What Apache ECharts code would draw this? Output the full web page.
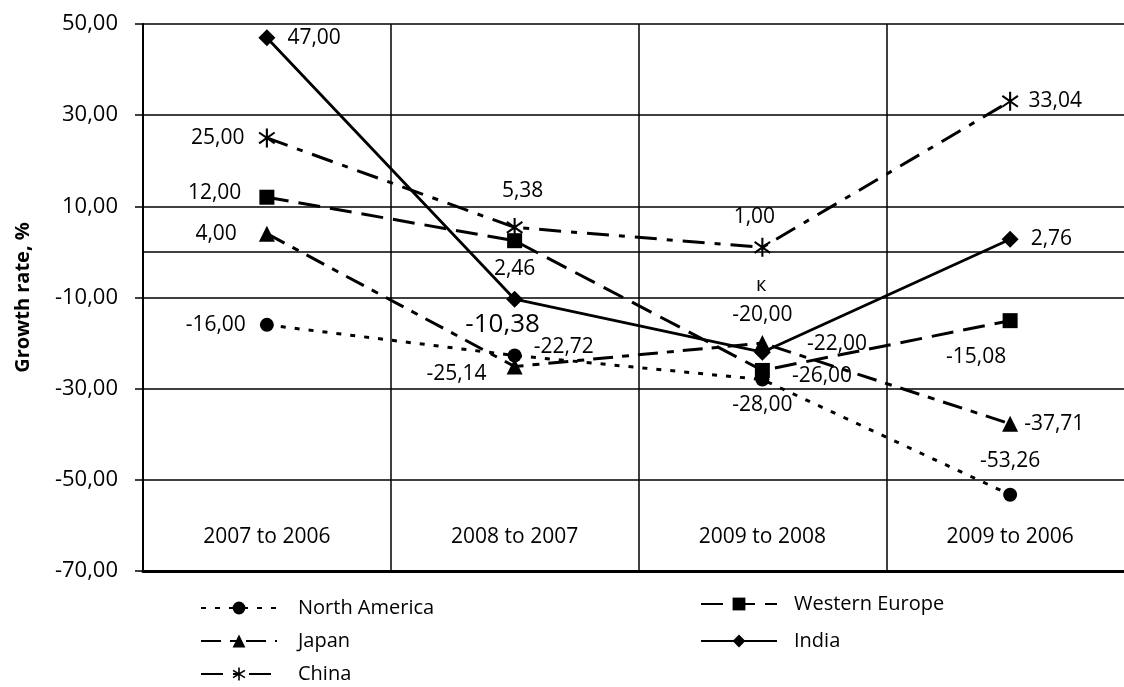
<!DOCTYPE html>
<html>
<head>
<meta charset="utf-8">
<script src="https://cdn.jsdelivr.net/npm/echarts@6/dist/echarts.min.js"></script>
<style>
html,body{margin:0;padding:0;background:#fff;overflow:hidden;}
#chart{width:1140px;height:687px;}
</style>
</head>
<body>
<div id="chart"></div>
<script>
// ---- data ----
const categories = ['2007 to 2006', '2008 to 2007', '2009 to 2008', '2009 to 2006'];
const northAmerica = [-16.00, -22.72, -28.00, -53.26];
const westernEurope = [12.00, 2.46, -26.00, -15.08];
const japan = [4.00, -25.14, -20.00, -37.71];
const india = [47.00, -10.38, -22.00, 2.76];
const china = [25.00, 5.38, 1.00, 33.04];
const yTicks = [-70, -50, -30, -10, 10, 30, 50];
const yAxisTitle = 'Growth rate, %';
const strayText = 'к';

// ---- styles (label placement per point) ----
const labelPlacement = {
  'North America': [{position:'left', distance:14}, {position:'right', distance:12, offset:[0,-8]}, {position:'bottom', distance:8}, {position:'top', distance:16}],
  'Western Europe': [{position:'left', distance:18, offset:[0,-4]}, {position:'bottom', distance:10}, {position:'right', distance:22, offset:[0,6]}, {position:'bottom', distance:14, offset:[-34,4]}],
  'Japan': [{position:'left', distance:22}, {position:'left', distance:20, offset:[0,8]}, {position:'top', distance:10}, {position:'right', distance:6}],
  'India': [{position:'right', distance:12}, {position:'bottom', distance:4, offset:[-12,0], fontSize:26}, {position:'right', distance:36, offset:[0,-8]}, {position:'right', distance:12}],
  'China': [{position:'left', distance:14}, {position:'top', distance:10, offset:[8,-6]}, {position:'top', distance:10, offset:[-8,0]}, {position:'right', distance:10}]
};

function fmt(v){ return v.toFixed(2).replace('.', ','); }

function asteriskPath(){
  const L = 10, w = 1.1;
  const angles = [0, 55, -55];
  let d = '';
  angles.forEach(a => {
    const r = a * Math.PI / 180;
    const dx = Math.sin(r), dy = -Math.cos(r);
    const nx = -dy, ny = dx;
    const p = [
      [dx*L + nx*w, dy*L + ny*w],
      [dx*L - nx*w, dy*L - ny*w],
      [-dx*L - nx*w, -dy*L - ny*w],
      [-dx*L + nx*w, -dy*L + ny*w]
    ];
    d += 'M' + p.map(q => q[0].toFixed(2) + ' ' + q[1].toFixed(2)).join(' L') + ' Z ';
  });
  return 'path://' + d;
}

const FONT = '"Open Sans", sans-serif';

function makeData(name, values){
  return values.map((v, i) => {
    const pl = labelPlacement[name][i];
    const lab = {position: pl.position, distance: pl.distance};
    if (pl.offset) lab.offset = pl.offset;
    if (pl.fontSize) lab.fontSize = pl.fontSize;
    return {value: v, label: lab};
  });
}

const seriesDefs = [
  {name:'North America', values: northAmerica, symbol:'circle', size:14, dash:[5,9], width:3},
  {name:'Japan', values: japan, symbol:'triangle', size:16, dash:[20,9,7,9], width:3},
  {name:'China', values: china, symbol: asteriskPath(), size:19, dash:[22,10,6,10], width:3},
  {name:'Western Europe', values: westernEurope, symbol:'rect', size:15, dash:[22,10], width:3},
  {name:'India', values: india, symbol:'diamond', size:17, dash:'solid', width:2.8}
];

const series = seriesDefs.map(s => ({
  name: s.name,
  type: 'line',
  data: makeData(s.name, s.values),
  symbol: s.symbol,
  symbolSize: s.size,
  symbolKeepAspect: true,
  showAllSymbol: true,
  lineStyle: {color:'#000', width: s.width, type: s.dash},
  itemStyle: {color:'#000'},
  label: {
    show: true,
    color: '#000',
    fontFamily: FONT,
    fontSize: 21,
    formatter: p => fmt(p.value)
  },
  emphasis: {disabled: true},
  animation: false
}));

// zero line
series[0].markLine = {
  silent: true,
  symbol: 'none',
  label: {show:false},
  lineStyle: {color:'#000', width:1.5, type:'solid'},
  data: [{yAxis: 0}],
  animation: false
};

const chart = echarts.init(document.getElementById('chart'), null, {renderer:'canvas'});
chart.setOption({
  backgroundColor: '#fff',
  animation: false,
  grid: {left:143, top:24, width:991, height:547, containLabel:false},
  xAxis: {
    type: 'category',
    data: categories,
    boundaryGap: true,
    axisLine: {show:true, onZero:false, lineStyle:{color:'#000', width:3}},
    axisTick: {show:false},
    splitLine: {show:true, lineStyle:{color:'#000', width:1.5}},
    axisLabel: {
      color:'#000', fontFamily: FONT, fontSize: 21,
      margin: -34, verticalAlign: 'middle', interval: 0
    }
  },
  yAxis: {
    type: 'value',
    min: yTicks[0],
    max: yTicks[yTicks.length-1],
    interval: 20,
    name: yAxisTitle,
    nameLocation: 'middle',
    nameGap: 110,
    nameRotate: 90,
    nameTextStyle: {color:'#000', fontFamily: FONT, fontWeight:'bold', fontSize:20},
    axisLine: {show:true, lineStyle:{color:'#000', width:2}},
    axisTick: {show:true, length:8, lineStyle:{color:'#000', width:1.5}},
    splitLine: {show:true, lineStyle:{color:'#000', width:1.5}},
    axisLabel: {
      color:'#000', fontFamily: FONT, fontSize: 22, margin: 25,
      formatter: v => fmt(v)
    }
  },
  legend: [
    {
      left: 200, top: 598, orient: 'vertical', itemGap: 13, padding: 0,
      itemWidth: 76, itemHeight: 16,
      data: ['North America', 'Japan', 'China'],
      textStyle: {color:'#000', fontFamily: FONT, fontSize: 20, padding:[0,0,0,16]},
      selectedMode: false
    },
    {
      left: 700, top: 594, orient: 'vertical', itemGap: 17, padding: 0,
      itemWidth: 76, itemHeight: 16,
      data: ['Western Europe', 'India'],
      textStyle: {color:'#000', fontFamily: FONT, fontSize: 20, padding:[0,0,0,12]},
      selectedMode: false
    }
  ],
  graphic: [
    {type:'text', left: 756, top: 275, style:{text: strayText, fill:'#000', font: '20px "Open Sans", sans-serif'}}
  ],
  series: series
});
</script>
</body>
</html>
